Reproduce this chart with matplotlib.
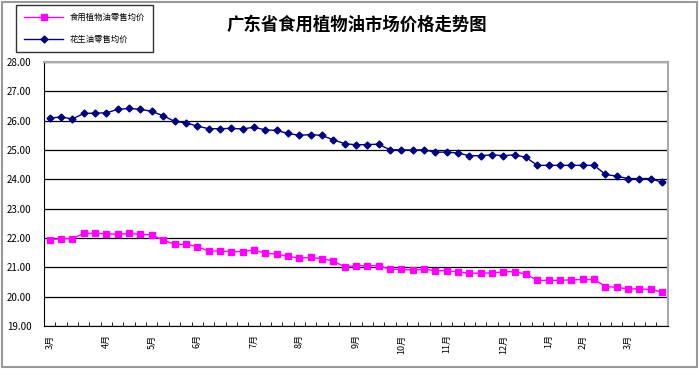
import numpy as np
import matplotlib
matplotlib.use("Agg")
import matplotlib.pyplot as plt
from matplotlib.patches import Rectangle

plt.rcParams['font.family'] = ['Noto Sans CJK SC', 'DejaVu Sans']

# weekly retail prices (yuan), 55 weeks from March to the following March
peanut_oil = [26.09, 26.13, 26.06, 26.25, 26.26, 26.27, 26.39, 26.42, 26.39, 26.32,
              26.17, 25.98, 25.93, 25.82, 25.73, 25.73, 25.74, 25.72, 25.78, 25.69,
              25.67, 25.57, 25.50, 25.53, 25.50, 25.35, 25.22, 25.18, 25.19, 25.20,
              25.01, 25.01, 25.00, 25.01, 24.93, 24.93, 24.90, 24.81, 24.81, 24.84,
              24.81, 24.84, 24.75, 24.48, 24.48, 24.48, 24.48, 24.48, 24.48, 24.17,
              24.11, 24.03, 24.03, 24.03, 23.90]
edible_oil = [21.95, 21.98, 21.98, 22.16, 22.16, 22.15, 22.13, 22.16, 22.13, 22.11,
              21.93, 21.79, 21.79, 21.71, 21.56, 21.56, 21.54, 21.54, 21.60, 21.48,
              21.46, 21.38, 21.32, 21.34, 21.30, 21.22, 21.02, 21.06, 21.06, 21.06,
              20.94, 20.94, 20.91, 20.94, 20.89, 20.89, 20.85, 20.80, 20.81, 20.81,
              20.85, 20.86, 20.77, 20.56, 20.56, 20.56, 20.58, 20.59, 20.59, 20.35,
              20.32, 20.27, 20.27, 20.25, 20.16]
month_pos = [0, 5, 9, 13, 18, 22, 27, 31, 35, 40, 44, 47, 51]
month_labels = ["3月", "4月", "5月", "6月", "7月", "8月", "9月", "10月",
                "11月", "12月", "1月", "2月", "3月"]
title = "广东省食用植物油市场价格走势图"

fig = plt.figure(figsize=(7, 3.74), dpi=100)
# outer chart frame
fig.patches.append(Rectangle((0.003, 0.019), 0.992, 0.976, transform=fig.transFigure,
                             fill=False, edgecolor="#999999", linewidth=1.5))
ax = fig.add_axes([0.063, 0.128, 0.891, 0.706])

x = np.arange(len(peanut_oil))
ax.plot(x, edible_oil, color="#FF00FF", marker="s", markersize=4.5, linewidth=1,
        label="食用植物油零售均价")
ax.plot(x, peanut_oil, color="#000080", marker="D", markersize=3.5, linewidth=1,
        label="花生油零售均价")

ax.set_xlim(-0.5, len(x) - 0.5)
ax.set_ylim(19, 28)
ax.set_yticks(np.arange(19, 28.01, 1))
ax.set_yticklabels([f"{v:.2f}" for v in np.arange(19, 28.01, 1)], fontsize=7)
ax.yaxis.grid(True, color="black", linewidth=0.9)
ax.set_axisbelow(True)
ax.tick_params(axis="y", length=0, pad=9)

ax.set_xticks(np.arange(-0.5, len(x), 1), minor=True)
ax.set_xticks(month_pos)
ax.set_xticklabels(month_labels, rotation=90, fontsize=6.5, va="top")
ax.tick_params(axis="x", which="major", length=0, pad=6)
ax.tick_params(axis="x", which="minor", length=3, direction="in")

for s in ["top", "right"]:
    ax.spines[s].set_color("#aaaaaa")
    ax.spines[s].set_linewidth(1.5)

fig.text(0.51, 0.935, title, ha="center", va="center", fontsize=12.5, fontweight="semibold")

leg = ax.legend(loc="upper left", bbox_to_anchor=(0.023, 0.987), bbox_transform=fig.transFigure,
                fontsize=6, frameon=True, fancybox=False, edgecolor="black",
                handlelength=4.6, borderpad=1.0, labelspacing=1.5, borderaxespad=0)
leg.get_frame().set_linewidth(1)

fig.savefig("out.png", dpi=100)
